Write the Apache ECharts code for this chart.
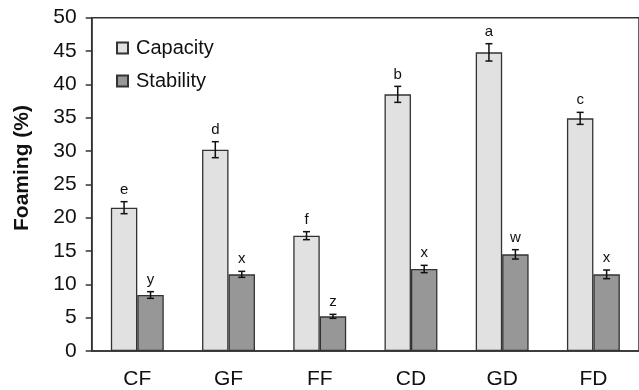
<!DOCTYPE html>
<html><head><meta charset="utf-8">
<script src="https://cdn.jsdelivr.net/npm/echarts@6/dist/echarts.min.js"></script>
<style>html,body{margin:0;padding:0;background:#fff}#c{width:639px;height:390px}</style>
</head><body><div id="c"></div>
<script>
var categories = ['CF','GF','FF','CD','GD','FD'];
var capacity = [21.5, 30.2, 17.3, 38.5, 44.8, 34.9];
var capacityErr = [0.9, 1.2, 0.6, 1.2, 1.3, 0.9];
var stability = [8.4, 11.5, 5.2, 12.3, 14.5, 11.5];
var stabilityErr = [0.5, 0.45, 0.3, 0.55, 0.7, 0.65];
var capacityLetters = ['e','d','f','b','a','c'];
var stabilityLetters = ['y','x','z','x','w','x'];
var yTicks = {min: 0, max: 50, interval: 5};

var FONT = '"Liberation Sans", Arial, sans-serif';
var AX = '#333';
var BW = 0.29;

function errRender(letters, side) {
  return function (params, api) {
    var i = api.value(0), v = api.value(1), e = api.value(2);
    var w = api.size([1, 0])[0];
    var c = api.coord([i, v]);
    var x = c[0] + side * w * BW / 2;
    var top = api.coord([i, v + e])[1];
    var bot = api.coord([i, v - e])[1];
    var cw = 3.5;
    var st = {stroke: '#111', lineWidth: 1.5};
    return {type: 'group', children: [
      {type: 'line', shape: {x1: x, y1: top, x2: x, y2: bot}, style: st},
      {type: 'line', shape: {x1: x - cw, y1: top, x2: x + cw, y2: top}, style: st},
      {type: 'line', shape: {x1: x - cw, y1: bot, x2: x + cw, y2: bot}, style: st},
      {type: 'text', x: x, y: top - 4.5, style: {text: letters[params.dataIndex], fill: '#111',
        font: '15px ' + FONT, textAlign: 'center', textVerticalAlign: 'bottom'}}
    ]};
  };
}

var chart = echarts.init(document.getElementById('c'), null, {renderer: 'canvas'});
chart.setOption({
  animation: false,
  grid: {left: 91.7, right: -2, top: 17.7, bottom: 36.7, show: true, borderColor: AX, borderWidth: 1.5, backgroundColor: 'transparent'},
  legend: {
    orient: 'vertical', left: 111, top: 33, itemWidth: 11, itemHeight: 11, itemGap: 13,
    icon: 'rect',
    textStyle: {fontSize: 20, fontFamily: FONT, color: '#111', padding: [0, 0, 0, 3]},
    data: ['Capacity', 'Stability']
  },
  xAxis: {
    type: 'category', data: categories,
    axisLine: {lineStyle: {color: AX, width: 1.5}},
    axisTick: {length: 5, lineStyle: {color: AX, width: 1.5}},
    axisLabel: {fontSize: 21, fontFamily: FONT, color: '#111', margin: 18}
  },
  yAxis: {
    type: 'value', min: yTicks.min, max: yTicks.max, interval: yTicks.interval,
    splitLine: {show: false},
    axisLine: {show: true, lineStyle: {color: AX, width: 1.5}},
    axisTick: {show: true, length: 6, lineStyle: {color: AX, width: 1.5}},
    axisLabel: {fontSize: 21, fontFamily: FONT, color: '#111', margin: 15}
  },
  graphic: [{type: 'text', x: 22, y: 168, rotation: Math.PI / 2,
    style: {text: 'Foaming (%)', font: 'bold 21px ' + FONT, fill: '#111', textAlign: 'center', textVerticalAlign: 'middle'}}],
  series: [
    {name: 'Capacity', type: 'bar', data: capacity, barWidth: (BW * 100) + '%', barGap: '0%',
      itemStyle: {color: '#e1e1e1', borderColor: '#333', borderWidth: 1.3}},
    {name: 'Stability', type: 'bar', data: stability, barWidth: (BW * 100) + '%', barGap: '0%',
      itemStyle: {color: '#979797', borderColor: '#333', borderWidth: 1.3}},
    {type: 'custom', renderItem: errRender(capacityLetters, -1), z: 10,
      data: capacity.map(function (v, i) { return [i, v, capacityErr[i]]; })},
    {type: 'custom', renderItem: errRender(stabilityLetters, 1), z: 10,
      data: stability.map(function (v, i) { return [i, v, stabilityErr[i]]; })}
  ]
});
</script></body></html>
